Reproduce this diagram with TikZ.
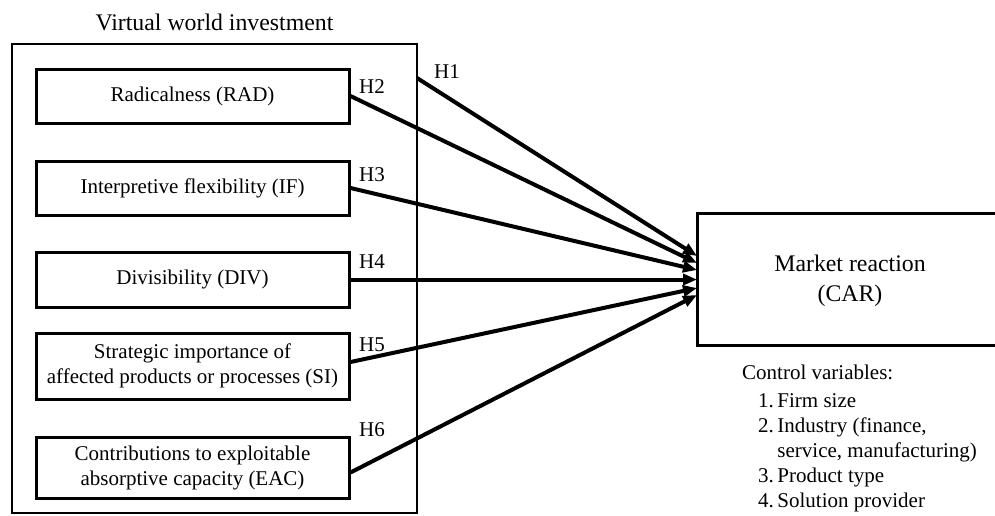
\documentclass[tikz,border=0pt]{standalone}
\usepackage{fontspec}
\setmainfont{Liberation Serif}
\usetikzlibrary{arrows.meta}
\begin{document}
\begin{tikzpicture}[x=1pt,y=-1pt,
  every node/.style={font=\fontsize{21}{25}\selectfont, inner sep=0pt},
  big/.style={font=\fontsize{23.8}{30}\selectfont},
  factor/.style={draw, line width=3pt, minimum width=313pt, align=center},
  outerbox/.style={draw, line width=2.6pt},
  link/.style={line width=4pt, -{Triangle[length=14pt,width=11pt]}},
  hlab/.style={anchor=center}]
\useasboundingbox (0,0) rectangle (995,515);
\clip (0,0) rectangle (995,515);
% outer box
\node[outerbox, minimum width=405pt, minimum height=469pt] (outer) at (214.5,278.5) {};
\node[big] (title) at (214.5,22) {Virtual world investment};
% factors
\node[factor, minimum height=54pt] (rad) at (192.5,96) {Radicalness (RAD)};
\node[factor, minimum height=54pt] (if) at (192.5,188) {Interpretive flexibility (IF)};
\node[factor, minimum height=55pt] (div) at (192.5,279.5) {Divisibility (DIV)};
\node[factor, minimum height=66pt] (si) at (192.5,366) {Strategic importance of\\affected products or processes (SI)};
\node[factor, minimum height=61pt] (eac) at (192.5,467.5) {Contributions to exploitable\\absorptive capacity (EAC)};
% market reaction
\node[draw, line width=3pt, minimum width=320pt, minimum height=132pt] (car) at (857,279) {};
\node[big, align=center] (cartext) at (850,281) {Market reaction\\(CAR)};
% control variables
\node[anchor=north west, align=left] (ctrl) at (742,362) {%
  \begin{tabular}{@{}r@{\,}l@{}}
  \multicolumn{2}{@{}l@{}}{Control variables:}\\[3pt]
  \hspace{16pt}1. & Firm size\\
  2. & Industry (finance,\\
     & service, manufacturing)\\
  3. & Product type\\
  4. & Solution provider
  \end{tabular}};
% connector start/end points
\coordinate (s1) at (417,78);
\coordinate (t1) at (697,256);
\coordinate (t2) at (697,263);
\coordinate (t3) at (697,270);
\coordinate (t4) at (697,279.5);
\coordinate (t5) at (697,288);
\coordinate (t6) at (697,295);
\draw[link] (s1) -- (t1);
\draw[link] (rad.east) -- (t2);
\draw[link] (if.east) -- (t3);
\draw[link] (div.east) -- (t4);
\draw[link] ([yshift=4pt]si.east) -- (t5);
\draw[link] ([yshift=-5pt]eac.east) -- (t6);
% labels
\node[hlab] (h1) at (447,72) {H1};
\node[hlab] (h2) at (372,87) {H2};
\node[hlab] (h3) at (372,175) {H3};
\node[hlab] (h4) at (372,262) {H4};
\node[hlab] (h5) at (372,345) {H5};
\node[hlab] (h6) at (372,430) {H6};
\end{tikzpicture}
\end{document}
